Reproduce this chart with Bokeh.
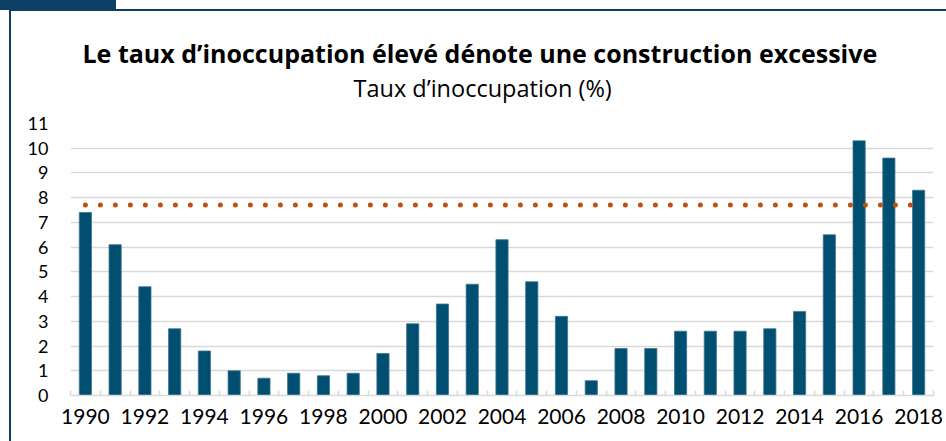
from bokeh.plotting import figure
from bokeh.models import Range1d, FixedTicker, Title, InlineStyleSheet, ColumnDataSource
from bokeh.embed import file_html
from bokeh.resources import INLINE

years = [1990, 1991, 1992, 1993, 1994, 1995, 1996, 1997, 1998, 1999,
         2000, 2001, 2002, 2003, 2004, 2005, 2006, 2007, 2008, 2009,
         2010, 2011, 2012, 2013, 2014, 2015, 2016, 2017, 2018]
vacancy = [7.4, 6.1, 4.4, 2.7, 1.8, 1.0, 0.7, 0.9, 0.8, 0.9,
           1.7, 2.9, 3.7, 4.5, 6.3, 4.6, 3.2, 0.6, 1.9, 1.9,
           2.6, 2.6, 2.6, 2.7, 3.4, 6.5, 10.3, 9.6, 8.3]
threshold = 7.7
x_tick_labels = ["1990", "1992", "1994", "1996", "1998", "2000", "2002", "2004",
                 "2006", "2008", "2010", "2012", "2014", "2016", "2018"]
y_ticks = [0, 1, 2, 3, 4, 5, 6, 7, 8, 9, 10, 11]

title_text = "Le taux d\u2019inoccupation élevé dénote une construction excessive"
subtitle_text = "Taux d\u2019inoccupation (%)"

FONT = "Lato"
TFONT = "Open Sans"
BAR = "#004f70"
BAR_EDGE = "#3f7590"
DOT = "#c0500e"
FRAME = "#0e4066"
GRID = "#d9d9d9"

frame_css = InlineStyleSheet(css=f"""
:host {{
  position: relative;
}}
:host::before {{
  content: '';
  position: absolute;
  left: 0px;
  top: 0px;
  width: 116px;
  height: 10px;
  background: {FRAME};
  z-index: 5;
}}
:host::after {{
  content: '';
  position: absolute;
  left: 9px;
  top: 9px;
  right: 0px;
  bottom: 0px;
  border-top: 2px solid {FRAME};
  border-left: 2px solid {FRAME};
  pointer-events: none;
  z-index: 5;
}}
""")

p = figure(width=946, height=441, output_backend="svg", toolbar_location=None,
           x_range=Range1d(years[0] - 0.5, years[-1] + 0.5),
           y_range=Range1d(0, y_ticks[-1]),
           min_border_left=70, min_border_right=13, min_border_bottom=46,
           min_border_top=123)
p.stylesheets = [frame_css]
p.outline_line_color = None
p.background_fill_color = "white"
p.border_fill_color = "white"

src = ColumnDataSource(dict(x=years, top=vacancy))
p.vbar(x="x", top="top", width=0.41, bottom=0, source=src,
       fill_color=BAR, line_color=BAR_EDGE, line_width=0.8)

p.line(x=[years[0], years[-1]], y=[threshold, threshold], line_color=DOT,
       line_width=5, line_dash="0 15", line_cap="round")

# titles: p.title is the outermost; added ones stack outward from the plot
p.title.text = title_text
p.title.text_font = TFONT
p.title.text_font_style = "bold"
p.title.text_font_size = "25px"
p.title.align = "left"
p.title.offset = 12
p.title.standoff = 0
p.title.text_color = "#000000"

spacer = Title(text=" ", text_font=TFONT, text_font_size="1px", standoff=17)
p.add_layout(spacer, "above")

sub = Title(text=subtitle_text, text_font=TFONT, text_font_style="normal",
            text_font_size="23.5px", align="left", offset=283, standoff=0,
            text_color="#000000")
p.add_layout(sub, "above")

# x axis
xa = p.xaxis[0]
even_years = [int(t) for t in x_tick_labels]
xa.ticker = FixedTicker(ticks=even_years,
                        minor_ticks=[y - 0.5 for y in years] + [years[-1] + 0.5])
xa.major_label_overrides = {y: s for y, s in zip(even_years, x_tick_labels)}
xa.axis_line_color = GRID
xa.axis_line_width = 1.5
xa.major_tick_line_color = None
xa.minor_tick_line_color = GRID
xa.minor_tick_line_width = 1.5
xa.minor_tick_in = 5
xa.minor_tick_out = 0
xa.major_label_text_font = FONT
xa.major_label_text_font_size = "21px"
xa.major_label_text_color = "#000000"
xa.major_label_standoff = 7

# y axis
ya = p.yaxis[0]
ya.ticker = FixedTicker(ticks=y_ticks)
ya.axis_line_color = None
ya.major_tick_line_color = None
ya.minor_tick_line_color = None
ya.major_label_text_font = FONT
ya.major_label_text_font_size = "18px"
ya.major_label_text_color = "#000000"
ya.major_label_standoff = 16

p.xgrid.grid_line_color = None
p.ygrid.grid_line_color = GRID
p.ygrid.grid_line_width = 1.3

open("out.html", "w").write(file_html(p, INLINE))
